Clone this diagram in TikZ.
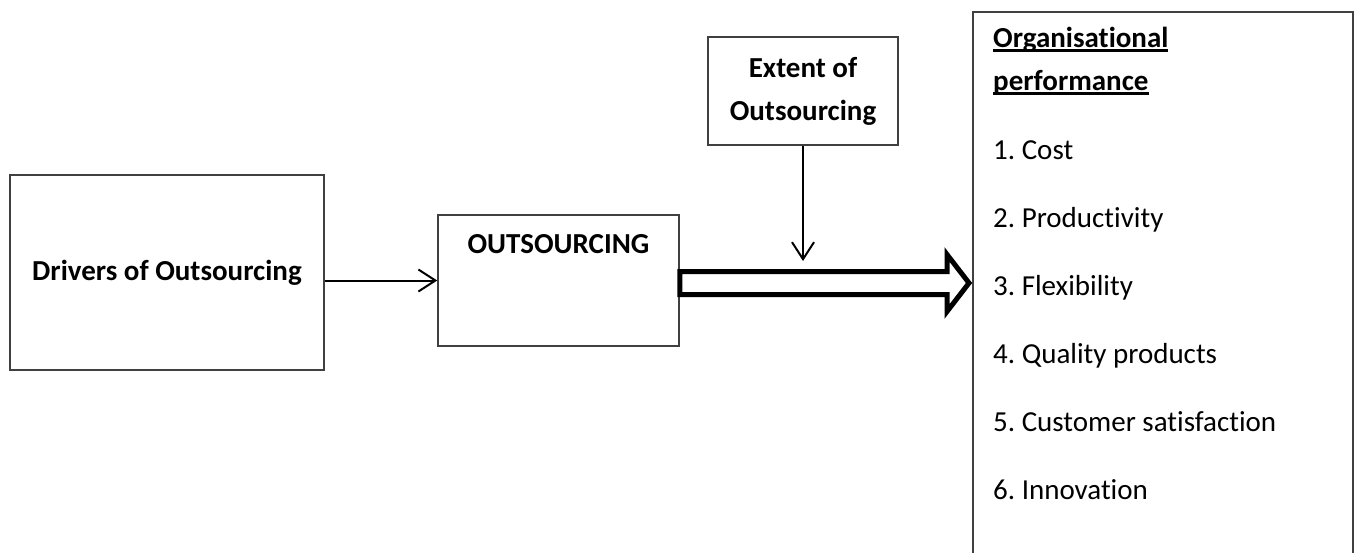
\documentclass[tikz,border=0pt]{standalone}
\usepackage{fontspec}
\setmainfont{Carlito}[Ligatures=NoCommon]
\usetikzlibrary{positioning, arrows.meta, calc}
\definecolor{boxcol}{RGB}{64,64,64}
\newsavebox{\ulinebox}
\newcommand{\ulined}[1]{\sbox{\ulinebox}{#1}\rlap{\rule[-5pt]{\wd\ulinebox}{2.8pt}}\usebox{\ulinebox}}

\begin{document}
\begin{tikzpicture}[
			x=1pt,
			y=-1pt,
			font=\fontsize{29}{43}\selectfont,
			box/.style={
				draw=boxcol,
				line width=1.5pt,
				rectangle,
				inner sep=0pt
			},
			head/.style={
				font=\fontsize{29}{43}\selectfont\bfseries,
				align=center
			},
			item/.style={
				anchor=base west,
				inner sep=0pt
			},
			thinarrow/.style={
				draw=black,
				line width=2pt,
				-{Straight Barb[length=17pt, width=22pt, line width=2pt]}
			},
			blockarrow/.style={
				draw=black,
				line width=5pt,
				fill=white,
				line join=miter
			}
			]
			\useasboundingbox (0,0) rectangle (1356,552);
			
			% Boxes
			\node[box, head, minimum width=314pt, minimum height=195pt] (drivers) at (167,272.5) {Drivers of Outsourcing};
			\node[box, minimum width=241pt, minimum height=131pt,
				label={[head, anchor=north, inner sep=0pt, yshift=-20pt]north:OUTSOURCING}] (outs) at (558.5,280.5) {};
			\node[box, head, minimum width=190pt, minimum height=108pt] (extent) at (803,91) {Extent of\\Outsourcing};
			\node[box, anchor=north west, minimum width=380pt, minimum height=560pt] (perf) at (972,11) {};
			
			% Performance list
			\node[item, font=\fontsize{29}{43}\selectfont\bfseries] (title1) at (993,47) {\ulined{Organisational}};
			\node[item, font=\fontsize{29}{43}\selectfont\bfseries] (title2) at (993,90) {\ulined{performance}};
			\foreach \n/\what in {1/Cost, 2/Productivity, 3/Flexibility, 4/Quality products, 5/Customer satisfaction, 6/Innovation}
			\node[item] (item\n) at (993,{159+68*(\n-1)}) {\n.\ \what};
			
			% Connectors
			\draw[thinarrow] (outs.west -| drivers.east) -- (outs.west);
			\coordinate (extent tip) at (extent.south |- 0,261);
			\draw[thinarrow] (extent.south) -- (extent tip);
			\coordinate (bs) at (outs.east |- 0,283);
			\coordinate (bt) at ($(perf.west |- bs)+(-3,0)$);
			\draw[blockarrow] ($(bs)+(0,-11.5)$) -- ($(bt)+(-22,-11.5)$) -- ($(bt)+(-22,-28.5)$) -- (bt)
			-- ($(bt)+(-22,28.5)$) -- ($(bt)+(-22,11.5)$) -- ($(bs)+(0,11.5)$) -- cycle;
		\end{tikzpicture}
\end{document}
